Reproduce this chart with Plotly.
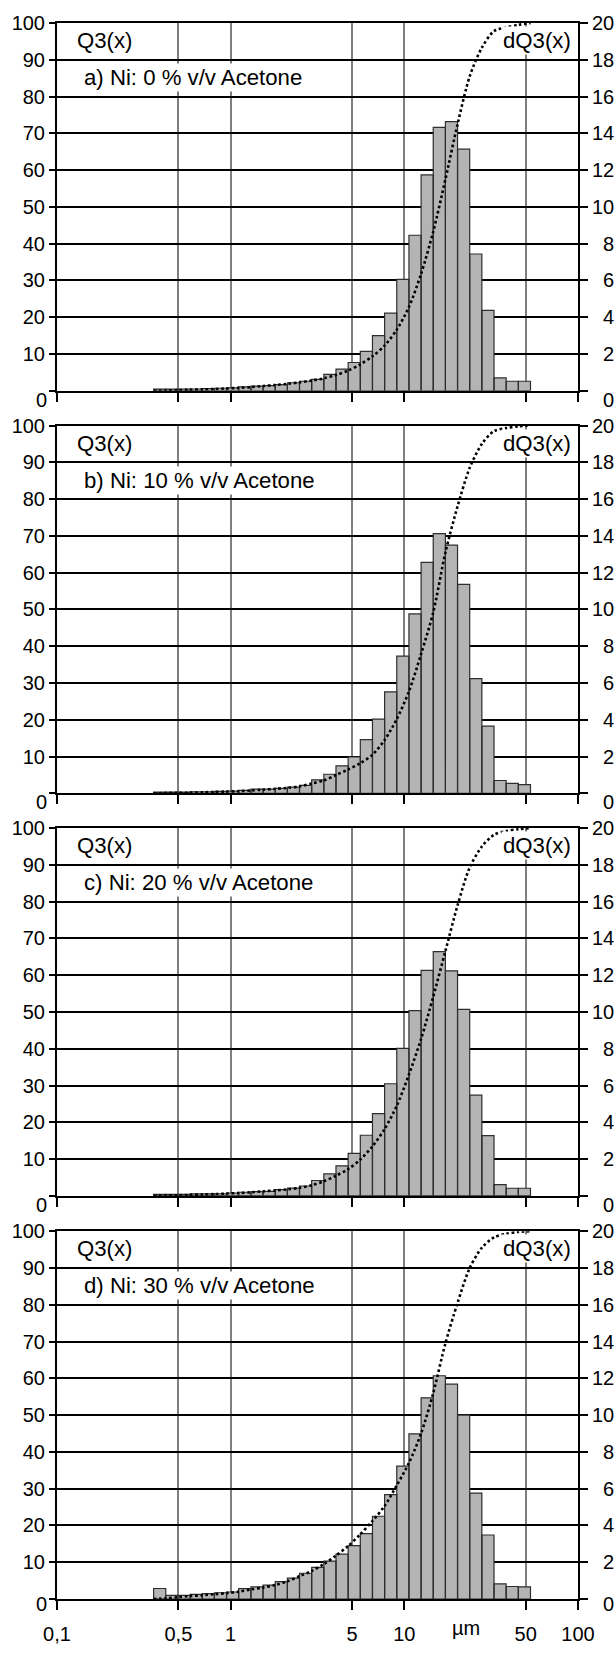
import numpy as np
import plotly.graph_objects as go

# ---------------- data ----------------
# class edges in micrometres (31 classes, log-equidistant)
edges = [0.360, 0.423, 0.497, 0.584, 0.686, 0.806, 0.947, 1.112, 1.308, 1.536,
         1.805, 2.121, 2.491, 2.927, 3.439, 4.041, 4.747, 5.578, 6.553, 7.699,
         9.045, 10.63, 12.49, 14.67, 17.24, 20.25, 23.79, 27.95, 32.84, 38.58,
         45.33, 53.26]

# dQ3(x) per class, % (right axis)
dq3_a = [0.09, 0.09, 0.09, 0.10, 0.12, 0.14, 0.16, 0.22, 0.26, 0.28, 0.34, 0.44,
         0.52, 0.62, 0.90, 1.18, 1.54, 2.14, 3.00, 4.22, 6.06, 8.46, 11.74, 14.32,
         14.64, 13.14, 7.44, 4.38, 0.70, 0.52, 0.52]
dq3_b = [0.07, 0.07, 0.07, 0.09, 0.09, 0.11, 0.12, 0.16, 0.23, 0.23, 0.27, 0.34,
         0.44, 0.74, 1.04, 1.50, 1.98, 2.92, 4.04, 5.52, 7.46, 9.76, 12.56, 14.12,
         13.50, 11.36, 6.24, 3.66, 0.70, 0.54, 0.48]
dq3_c = [0.09, 0.09, 0.09, 0.11, 0.11, 0.12, 0.16, 0.20, 0.23, 0.25, 0.34, 0.43,
         0.54, 0.84, 1.20, 1.64, 2.32, 3.30, 4.48, 6.10, 8.02, 10.08, 12.26, 13.28,
         12.24, 10.14, 5.48, 3.28, 0.62, 0.42, 0.42]
dq3_d = [0.57, 0.20, 0.20, 0.25, 0.29, 0.34, 0.38, 0.56, 0.66, 0.75, 0.94, 1.14,
         1.40, 1.72, 2.06, 2.44, 2.90, 3.56, 4.50, 5.68, 7.22, 8.98, 10.94, 12.14,
         11.68, 10.00, 5.76, 3.48, 0.82, 0.68, 0.66]

# Q3(x) cumulative curve at the class edges, % (left axis)
q3_a = [0, 0.1, 0.2, 0.3, 0.4, 0.5, 0.65, 0.8, 1.0, 1.3, 1.6, 1.9, 2.3, 2.8, 3.4,
        4.3, 5.5, 7.2, 9.4, 12.3, 16.6, 22.8, 31.8, 43.3, 57.5, 72.5, 85.5, 93.3,
        97.8, 98.8, 99.5, 100]
q3_b = [0, 0.1, 0.15, 0.2, 0.3, 0.4, 0.5, 0.6, 0.8, 1.0, 1.25, 1.5, 1.9, 2.7, 3.5,
        5.0, 6.5, 8.2, 10.5, 14.5, 20.2, 27.7, 37.9, 49.2, 65.5, 78.0, 88.5, 95.0,
        98.5, 99.3, 99.8, 100]
q3_c = [0, 0.1, 0.2, 0.3, 0.4, 0.5, 0.65, 0.8, 1.0, 1.25, 1.5, 1.8, 2.2, 2.9, 4.0,
        5.5, 7.3, 9.9, 13.5, 18.2, 24.5, 33.0, 42.7, 54.2, 66.6, 79.0, 89.3, 95.0,
        98.2, 99.2, 99.7, 100]
q3_d = [0, 0.2, 0.5, 0.8, 1.0, 1.3, 1.6, 2.0, 2.6, 3.1, 3.8, 4.8, 6.2, 7.6, 9.5,
        11.8, 14.4, 17.6, 21.2, 25.3, 30.9, 37.0, 45.0, 56.0, 69.5, 80.5, 90.0, 95.5,
        98.3, 99.3, 99.8, 100]

panel_labels = ["a) Ni: 0 % v/v Acetone", "b) Ni: 10 % v/v Acetone",
                "c) Ni: 20 % v/v Acetone", "d) Ni: 30 % v/v Acetone"]
left_title = "Q3(x)"
right_title = "dQ3(x)"
x_tickvals = [0.1, 0.5, 1, 5, 10, 50, 100]
x_ticktext = ["0,1", "0,5", "1", "5", "10", "50", "100"]
unit_label = "µm"
unit_pos = 22.5
q3_ticks = list(range(0, 101, 10))
dq3_ticks = list(range(0, 21, 2))

bars_all = [dq3_a, dq3_b, dq3_c, dq3_d]
curves_all = [q3_a, q3_b, q3_c, q3_d]

# ---------------- layout geometry ----------------
W, H = 616, 1657
ML, MR, MT, MB = 55, 38, 17, 29
PW = W - ML - MR
PH = H - MT - MB
panel_tops = [17, 428.5, 840, 1252]
panel_h = 376
PX_PER_UNIT = panel_h / 100.0

FONT = "Liberation Sans, Arial, sans-serif"
TICK_FS = 20
ANN_FS = 22.2


def domain(top):
    return [(H - MB - (top + panel_h)) / PH, (H - MB - top) / PH]


def px_to_paper_x(px):
    return (px - ML) / PW


fig = go.Figure()
annotations = []
layout = dict(
    width=W, height=H, autosize=False,
    margin=dict(l=ML, r=MR, t=MT, b=MB, pad=0),
    paper_bgcolor="white", plot_bgcolor="white",
    showlegend=False,
    font=dict(family=FONT, size=TICK_FS, color="black"),
)

for i in range(4):
    n = i + 1
    xname = "x" if n == 1 else f"x{n}"
    ymain = "y" if n == 1 else f"y{n}"
    yover = f"y{n + 4}"
    xkey = "xaxis" if n == 1 else f"xaxis{n}"
    ymkey = "yaxis" if n == 1 else f"yaxis{n}"
    yokey = f"yaxis{n + 4}"
    dom = domain(panel_tops[i])

    layout[xkey] = dict(
        type="log", range=[-1, 2], domain=[0, 1], anchor=ymain,
        tickmode="array", tickvals=x_tickvals, ticktext=x_ticktext,
        showticklabels=(i == 3), ticks="outside", ticklen=9, tickwidth=2,
        tickcolor="black", ticklabelstandoff=7,
        showgrid=True, gridcolor="#7f7f7f", gridwidth=1.5,
        showline=True, linecolor="black", linewidth=2, mirror=True,
        zeroline=False, tickfont=dict(family=FONT, size=TICK_FS, color="black"),
    )
    # main axis: dQ3 on the right (bars)
    layout[ymkey] = dict(
        domain=dom, anchor=xname, side="right", range=[0, 20],
        tickmode="array", tickvals=dq3_ticks, showticklabels=False,
        ticks="outside", ticklen=8, tickwidth=2, tickcolor="black",
        showgrid=False, showline=True, linecolor="black", linewidth=2,
        zeroline=False,
    )
    # overlay axis: Q3 on the left (curve)
    layout[yokey] = dict(
        overlaying=ymain, anchor=xname, side="left", range=[0, 100],
        tickmode="array", tickvals=q3_ticks,
        ticktext=["" if v == 0 else str(v) for v in q3_ticks],
        ticks="outside", ticklen=6, tickwidth=2, tickcolor="black",
        showgrid=True, gridcolor="black", gridwidth=1.8,
        showline=True, linecolor="black", linewidth=2, zeroline=False,
        tickfont=dict(family=FONT, size=TICK_FS, color="black"),
    )

    # bars as closed polygons from the class edges and heights
    bx, by = [], []
    for j, h in enumerate(bars_all[i]):
        e0, e1 = edges[j], edges[j + 1]
        bx += [e0, e0, e1, e1, e0, None]
        by += [0, h, h, 0, 0, None]
    fig.add_trace(go.Scatter(
        x=bx, y=by, xaxis=xname, yaxis=ymain, mode="lines",
        fill="toself", fillcolor="#b4b4b4",
        line=dict(color="#2e2e2e", width=1.2), hoverinfo="skip",
    ))
    # cumulative curve
    fig.add_trace(go.Scatter(
        x=edges, y=curves_all[i], xaxis=xname, yaxis=yover, mode="lines",
        line=dict(color="black", width=2.6, dash="2.6px,2.6px",
                  shape="spline", smoothing=0.8),
        hoverinfo="skip",
    ))

    zshift = -5 if i == 3 else -9
    # zero labels (drawn a little below the zero line)
    annotations.append(dict(
        text="0", xref="paper", x=0, xanchor="right", xshift=-8,
        yref=yover, y=0, yanchor="middle", yshift=zshift, showarrow=False,
        font=dict(family=FONT, size=TICK_FS, color="black")))
    # right axis tick labels, right aligned at the picture edge
    for v in dq3_ticks:
        annotations.append(dict(
            text=str(v), xref="paper", x=px_to_paper_x(616), xanchor="right",
            yref=ymain, y=v, yanchor="middle",
            yshift=(zshift if v == 0 else 0), showarrow=False,
            font=dict(family=FONT, size=TICK_FS, color="black")))
    # panel texts
    annotations.append(dict(
        text=left_title, xref="paper", x=px_to_paper_x(73), xanchor="left",
        yref=yover, y=100 - 18 / PX_PER_UNIT, yanchor="middle", showarrow=False,
        bgcolor="white", font=dict(family=FONT, size=ANN_FS, color="black")))
    annotations.append(dict(
        text=right_title, xref="paper", x=px_to_paper_x(573), xanchor="right",
        yref=yover, y=100 - 18 / PX_PER_UNIT, yanchor="middle", showarrow=False,
        bgcolor="white", font=dict(family=FONT, size=ANN_FS, color="black")))
    annotations.append(dict(
        text=panel_labels[i], xref="paper", x=px_to_paper_x(80), xanchor="left",
        yref=yover, y=100 - 56 / PX_PER_UNIT, yanchor="middle", showarrow=False,
        bgcolor="white", font=dict(family=FONT, size=ANN_FS, color="black")))

# unit label on the bottom axis
annotations.append(dict(
    text=unit_label, xref="x4", x=np.log10(unit_pos), xanchor="center",
    yref="y8", y=0, yanchor="top", yshift=-16, showarrow=False,
    font=dict(family=FONT, size=TICK_FS, color="black")))

layout["annotations"] = annotations
fig.update_layout(**layout)
fig.write_html(
    "out.html",
    config={"displayModeBar": False},
    post_script="document.body.style.margin='0';document.body.style.padding='0';"
                "document.body.style.overflow='hidden';",
)
